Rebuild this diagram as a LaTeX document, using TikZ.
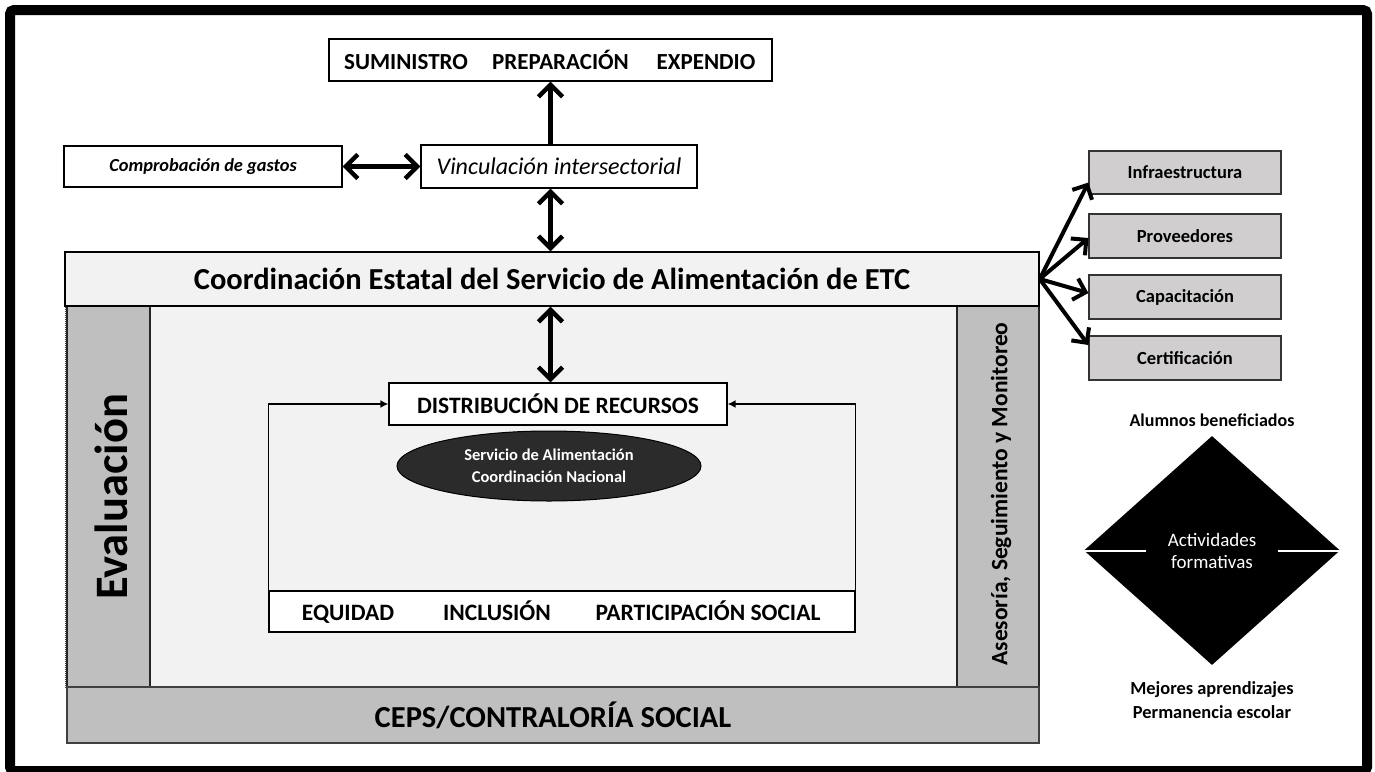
\documentclass[tikz,border=0pt]{standalone}
\usepackage{fontspec}
\setmainfont{Carlito}
\usetikzlibrary{arrows.meta,shapes.geometric}
\definecolor{lightbg}{HTML}{F2F2F2}
\definecolor{barg}{HTML}{BFBFBF}
\definecolor{boxg}{HTML}{D0CECE}
\definecolor{ellg}{HTML}{2B2B2B}
\newcommand{\fs}[1]{\fontsize{#1}{#1}\selectfont}
\begin{document}
\begin{tikzpicture}[x=1pt,y=-1pt,
  box/.style={draw=black, line width=1.2pt, fill=white, inner sep=0pt},
  gbox/.style={draw=black!80, line width=1.2pt, fill=boxg, inner sep=0pt, font=\fs{18.5}\bfseries},
  txt/.style={inner sep=0pt},
  dblarrow/.style={line width=4.5pt, {Straight Barb[length=12pt,width=24pt]}-{Straight Barb[length=12pt,width=24pt]}},
  onearrow/.style={line width=4.5pt, -{Straight Barb[length=12pt,width=24pt]}},
  fanarrow/.style={line width=4pt, -{Straight Barb[length=11pt,width=22pt]}},
  fbarrow/.style={line width=1.6pt, -{Latex[length=8pt,width=8pt]}}
]
\useasboundingbox (0,0) rectangle (1375,771);
\fill[white] (0,0) rectangle (1375,771);
% outer frame
\node[draw=black, line width=10pt, rounded corners=4pt, minimum width=1357pt, minimum height=761pt, inner sep=0pt] (frame) at (688.5,390.5) {};

% top boxes
\node[box, minimum width=443pt, minimum height=42pt] (sum) at (550.5,60) {};
\node[txt, anchor=base, font=\fs{23}\bfseries] (s1) at (406,69) {SUMINISTRO};
\node[txt, anchor=base, font=\fs{23}\bfseries] (s2) at (560.5,69) {PREPARACIÓN};
\node[txt, anchor=base, font=\fs{23}\bfseries] (s3) at (706,69) {EXPENDIO};

\node[box, minimum width=276pt, minimum height=43pt, font=\fs{24}\itshape] (vinc) at (559,166.5) {Vinculación intersectorial};
\node[box, minimum width=278pt, minimum height=41pt, font=\fs{18.4}\bfseries\itshape] (comp) at (203,166.5) {Comprobación de gastos};

% main block
\node[draw=black!70, densely dotted, line width=1pt, fill=lightbg, minimum width=974pt, minimum height=381pt, inner sep=0pt] (inner) at (552,496.5) {};
\node[draw=black!85, line width=1.2pt, fill=barg, minimum width=83pt, minimum height=381pt, inner sep=0pt] (eval) at (108.5,496.5) {};
\node[txt, rotate=90, font=\fs{46.5}\bfseries] (evalt) at (111,497) {Evaluación};
\node[draw=black!85, line width=1.2pt, fill=barg, minimum width=82pt, minimum height=381pt, inner sep=0pt] (ases) at (998,496.5) {};
\node[txt, rotate=90, font=\fs{23.5}\bfseries] (asest) at (1001,494) {Asesoría, Seguimiento y Monitoreo};
\node[draw=black, line width=1.4pt, fill=lightbg, minimum width=974pt, minimum height=54pt, inner sep=0pt, font=\fs{30.5}\bfseries] (coord) at (552,279) {Coordinación Estatal del Servicio de Alimentación de ETC};
\node[draw=black!75, line width=1.2pt, fill=barg, minimum width=972pt, minimum height=56pt, inner sep=0pt, font=\fs{30.5}\bfseries] (ceps) at (553,715) {CEPS/CONTRALORÍA SOCIAL};

% inner content
\node[box, minimum width=338pt, minimum height=42pt, font=\fs{23.5}\bfseries] (dist) at (558,404) {DISTRIBUCIÓN DE RECURSOS};
\node[ellipse, draw=black, line width=1pt, fill=ellg, text=white, minimum width=304pt, minimum height=70pt, inner sep=0pt, align=center, font=\fs{16.5}\bfseries] (ell) at (549,466) {Servicio de Alimentación\\[6pt]Coordinación Nacional};
\node[box, minimum width=586pt, minimum height=41pt] (eq) at (562,611.5) {};
\node[txt, anchor=base, font=\fs{23.5}\bfseries] (e1) at (348,620) {EQUIDAD};
\node[txt, anchor=base, font=\fs{23.5}\bfseries] (e2) at (497,620) {INCLUSIÓN};
\node[txt, anchor=base, font=\fs{23.5}\bfseries] (e3) at (708,620) {PARTICIPACIÓN SOCIAL};

% right boxes
\node[gbox, minimum width=192pt, minimum height=43pt] (infra) at (1185,172.5) {Infraestructura};
\node[gbox, minimum width=192pt, minimum height=44pt] (prov) at (1185,236) {Proveedores};
\node[gbox, minimum width=192pt, minimum height=44pt] (capac) at (1185,297) {Capacitación};
\node[gbox, minimum width=192pt, minimum height=44pt] (cert) at (1185,358) {Certificación};

% diamond
\node[diamond, fill=black, minimum width=256pt, minimum height=229pt, inner sep=0pt, text=white, align=center, font=\fs{19}] (dia) at (1212,550.5) {Actividades\\[3pt]formativas};
\draw[white, line width=2pt] (dia.west) -- ++(62,0);
\draw[white, line width=2pt] (dia.east) -- ++(-62,0);
\node[txt, font=\fs{18}\bfseries] (alum) at (1212,420) {Alumnos beneficiados};
\node[txt, font=\fs{18.4}\bfseries, align=center] (mej) at (1212,700) {Mejores aprendizajes\\[5pt]Permanencia escolar};

% connectors
\draw[onearrow] (vinc.north -| sum.south) -- (sum.south);
\draw[dblarrow] (comp.east) -- (vinc.west);
\draw[dblarrow] (vinc.south -| sum.south) -- (coord.north -| sum.south);
\draw[dblarrow] (coord.south -| sum.south) -- (dist.north -| sum.south);
\draw[fbarrow] (eq.north west) -- (eq.north west |- dist.west) -- (dist.west);
\draw[fbarrow] (eq.north east) -- (eq.north east |- dist.east) -- (dist.east);
\draw[fanarrow] (coord.east) -- ([yshift=-10pt]infra.west);
\draw[fanarrow] (coord.east) -- ([yshift=-2pt]prov.west);
\draw[fanarrow] (coord.east) -- ([yshift=4pt]capac.west);
\draw[fanarrow] (coord.east) -- ([yshift=13pt]cert.west);
\end{tikzpicture}
\end{document}
